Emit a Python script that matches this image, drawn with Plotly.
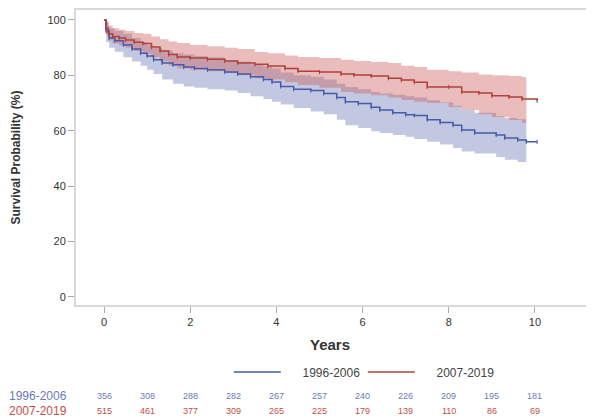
import plotly.graph_objects as go

# ---- data ----
t_blue = [0, 0.05, 0.12, 0.25, 0.45, 0.65, 0.85, 1.0, 1.15, 1.35, 1.6, 1.85, 2.1, 2.4, 2.8, 3.1, 3.4, 3.7, 3.9,
          4.1, 4.4, 4.8, 5.1, 5.4, 5.6, 5.9, 6.2, 6.4, 6.7, 7.0, 7.2, 7.5, 7.8, 8.1, 8.3, 8.6, 9.1, 9.3, 9.6, 9.8, 10.05]
s_blue = [100, 96, 93.5, 92.5, 91, 89.5, 88, 87, 85.6, 84.5, 83.8, 83, 82.5, 82, 81.2, 80.5, 79.5, 78.5, 77.6,
          76, 75, 74.5, 73.5, 72, 70.5, 69.8, 68.5, 67.5, 66.5, 65.8, 65.5, 64, 63, 62, 60.3, 59.2, 58.5, 57.4, 56.7, 56, 56]
tb_blue = [0, 0.05, 0.12, 0.25, 0.45, 0.65, 0.85, 1.0, 1.15, 1.35, 1.6, 1.85, 2.1, 2.4, 2.8, 3.1, 3.4, 3.7, 3.9,
           4.1, 4.4, 4.8, 5.1, 5.4, 5.6, 5.9, 6.2, 6.4, 6.7, 7.0, 7.2, 7.5, 7.8, 8.1, 8.3, 8.6, 9.1, 9.3, 9.6, 9.8]
lo_blue = [100, 92, 90, 88.5, 86.5, 85, 83.5, 82, 80.5, 78.5, 77, 76, 75.5, 75, 74.5, 73.6, 72.5, 71.5, 70.5,
           69.5, 68.2, 67, 66, 64, 62, 61, 59.8, 59.2, 58.5, 57.8, 57, 56, 55, 53.8, 52.5, 51.8, 50.5, 49.5, 48.7, 48.7]
hi_blue = [100, 99, 97, 96, 95, 93.5, 92, 91, 90, 89, 88, 87.5, 87, 86.5, 85.5, 85, 84, 83.2, 82.5,
           81, 80, 79.5, 78.5, 77, 75.8, 75, 74, 73.5, 73, 72.5, 72, 71, 70.2, 69, 67.5, 66.5, 65.2, 64.6, 64.2, 64]

t_red = [0, 0.04, 0.1, 0.2, 0.35, 0.5, 0.7, 0.9, 1.1, 1.3, 1.5, 1.7, 2.0, 2.4, 2.8, 3.1, 3.5, 3.8, 4.2, 4.5,
         5.0, 5.5, 5.8, 6.2, 6.6, 6.9, 7.2, 7.5, 8.0, 8.3, 8.7, 9.0, 9.4, 9.7, 10.05]
s_red = [100, 97, 95, 94, 93.5, 92.8, 92, 91.5, 90.2, 88.8, 87.5, 86.6, 86.3, 85.8, 85.2, 84.5, 84, 83.4, 82.5, 81.5,
         81.2, 80.5, 80.1, 79.8, 79, 78.3, 77.5, 75.8, 75.8, 74, 73.6, 72.6, 72.2, 71.5, 70.8]
tb_red = [0, 0.04, 0.1, 0.2, 0.35, 0.5, 0.7, 0.9, 1.1, 1.3, 1.5, 1.7, 2.0, 2.4, 2.8, 3.1, 3.5, 3.8, 4.2, 4.5,
          5.0, 5.5, 5.8, 6.2, 6.6, 6.9, 7.2, 7.5, 8.0, 8.3, 8.7, 9.0, 9.4, 9.7, 9.8]
lo_red = [100, 95, 92.5, 91.5, 90.8, 90, 88.8, 87.8, 86.5, 85, 83.5, 82.5, 82, 81.5, 80.9, 80, 79, 78.5, 77.5, 76.5,
          75.5, 74, 73.5, 72.8, 72, 71.1, 70.5, 70, 68.6, 67.5, 66, 65, 63.9, 62.8, 62.8]
hi_red = [100, 99.5, 98, 97, 96.5, 96, 95.3, 95, 94, 93, 92.2, 91.7, 91, 90.5, 90, 89.5, 88.4, 88, 87.2, 86.6,
          86.3, 85.6, 85.2, 84.8, 84.5, 83.5, 83, 82, 81.5, 81, 80.3, 80, 79.8, 79.4, 79.4]

years = [0, 1, 2, 3, 4, 5, 6, 7, 8, 9, 10]
n_blue = [356, 308, 288, 282, 267, 257, 240, 226, 209, 195, 181]
n_red = [515, 461, 377, 309, 265, 225, 179, 139, 110, 86, 69]
groups = ["1996-2006", "2007-2019"]
x_ticks = [0, 2, 4, 6, 8, 10]
y_ticks = [0, 20, 40, 60, 80, 100]

BLUE = "#4a5aa8"
RED = "#b0403a"
BLUE_BAND = "rgba(110,125,185,0.42)"
RED_BAND = "rgba(205,95,95,0.42)"
BLUE_TXT = "#6a7ab8"
RED_TXT = "#c0504a"
FONT = "Liberation Sans, Arial, sans-serif"
PAD = "\u00a0" * 5  # gap between legend line and its label

fig = go.Figure()

# confidence bands
for tb, lo, hi, col in [(tb_blue, lo_blue, hi_blue, BLUE_BAND), (tb_red, lo_red, hi_red, RED_BAND)]:
    fig.add_trace(go.Scatter(x=tb, y=lo, mode="lines", line=dict(width=0, shape="hv"),
                             showlegend=False, hoverinfo="skip"))
    fig.add_trace(go.Scatter(x=tb, y=hi, mode="lines", line=dict(width=0, shape="hv"),
                             fill="tonexty", fillcolor=col, showlegend=False, hoverinfo="skip"))

# survival curves with censor marks
for t, s, col, name in [(t_blue, s_blue, BLUE, groups[0]), (t_red, s_red, RED, groups[1])]:
    fig.add_trace(go.Scatter(x=t, y=s, mode="lines", line=dict(color=col, width=1.5, shape="hv"),
                             name=PAD + name))
    fig.add_trace(go.Scatter(x=t[1:], y=s[1:], mode="markers",
                             marker=dict(symbol="line-ns", size=3, line=dict(color=col, width=1)),
                             showlegend=False, hoverinfo="skip"))

annotations = []
PH = 295.0
for grp, ns, col, py in [(groups[0], n_blue, BLUE_TXT, 396), (groups[1], n_red, RED_TXT, 411)]:
    yp = (305 - py) / PH
    annotations.append(dict(x=(7 - 76) / 518.0, xref="paper", y=yp, yref="paper", text=grp, showarrow=False,
                            xanchor="left", yanchor="middle", font=dict(size=12, color=col, family=FONT)))
    for yr, n in zip(years, ns):
        annotations.append(dict(x=yr, xref="x", y=yp, yref="paper", text=str(n), showarrow=False,
                                xanchor="center", yanchor="middle", font=dict(size=9, color=col, family=FONT)))
annotations.append(dict(x=(15 - 76) / 518.0, xref="paper", y=0.5, yref="paper",
                        text="<b>Survival Probability (%)</b>",
                        textangle=-90, showarrow=False, xanchor="center", yanchor="middle",
                        font=dict(size=12, color="#333333", family=FONT)))
annotations.append(dict(x=0.49, xref="paper", y=(305 - 344) / PH, yref="paper", text="<b>Years</b>",
                        showarrow=False, xanchor="center", yanchor="middle",
                        font=dict(size=15, color="#333333", family=FONT)))

# the page body has an 8px margin, so the figure is 8px smaller and margins are shifted
fig.update_layout(
    width=586, height=411,
    margin=dict(l=68, r=0, t=2, b=114),
    paper_bgcolor="white", plot_bgcolor="white",
    font=dict(family=FONT, color="#333333", size=11),
    showlegend=True,
    legend=dict(orientation="h", x=0.295, y=(305 - 372) / PH, xanchor="left", yanchor="middle",
                traceorder="normal", itemwidth=47, entrywidth=72,
                font=dict(size=12, color="#444444"), bgcolor="rgba(0,0,0,0)"),
    annotations=annotations,
    xaxis=dict(range=[-0.65, 11.37], tickvals=x_ticks, showgrid=False, zeroline=False,
               showline=True, linecolor="#d9d9d9", linewidth=2, mirror=True,
               ticks="outside", ticklen=6, tickcolor="#aaaaaa", tickwidth=1,
               tickfont=dict(size=11, color="#333333")),
    yaxis=dict(range=[-2.9, 103.6], tickvals=y_ticks, showgrid=False, zeroline=False,
               showline=True, linecolor="#d9d9d9", linewidth=2,
               ticks="outside", ticklen=6, tickcolor="#aaaaaa", tickwidth=1,
               tickfont=dict(size=11, color="#333333")),
)

fig.write_html("out.html")
